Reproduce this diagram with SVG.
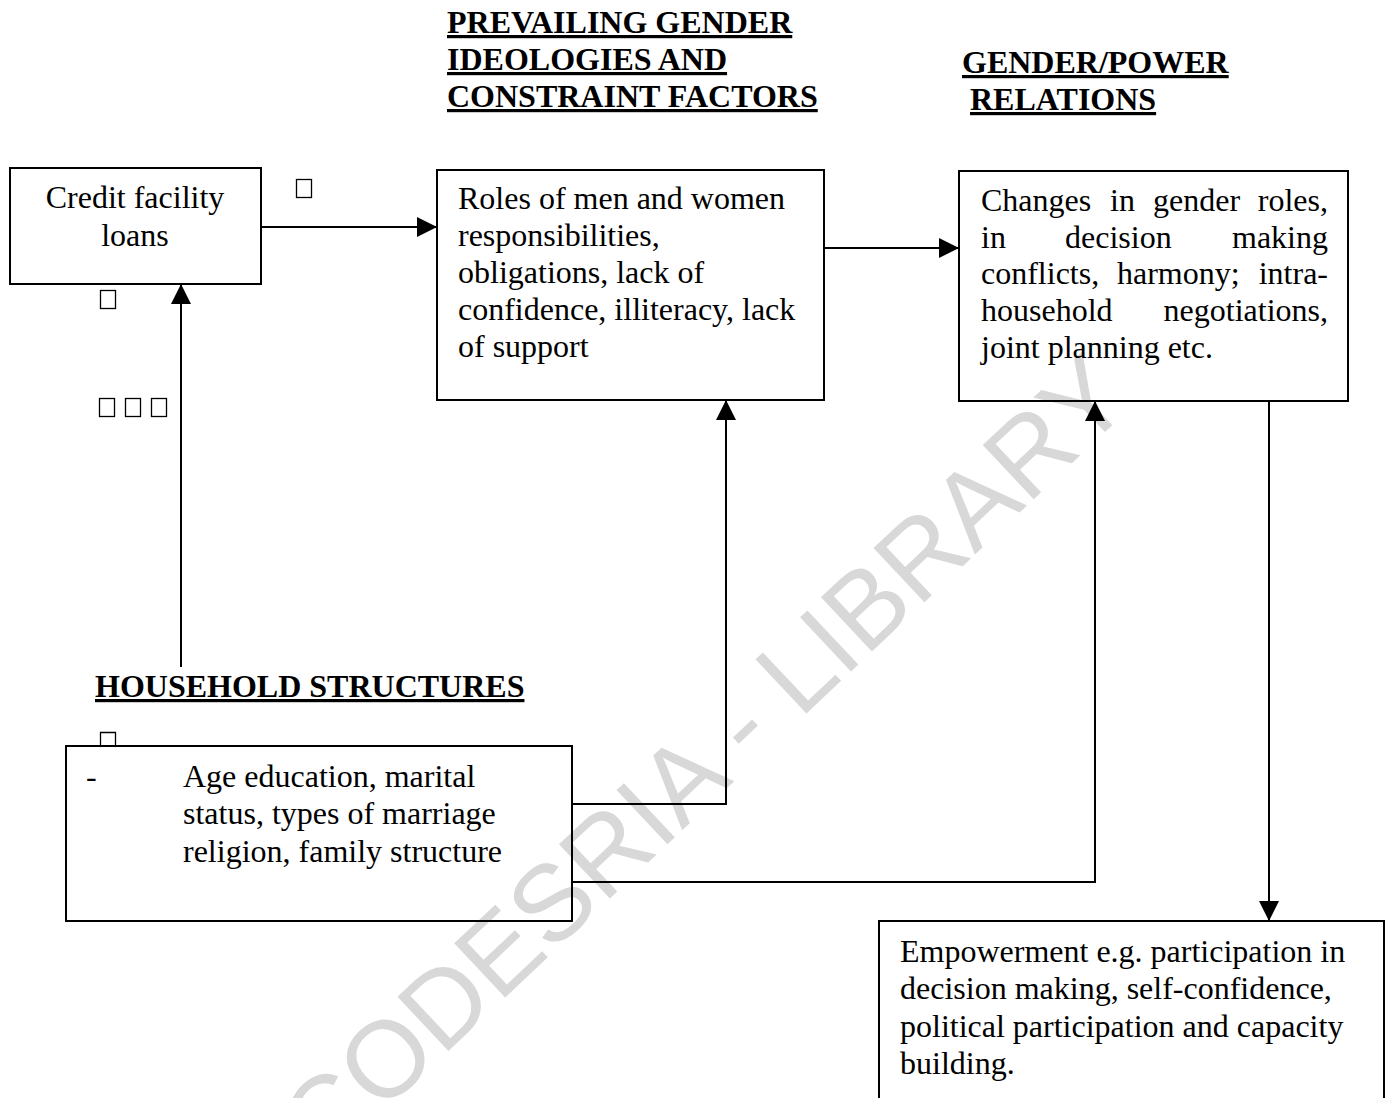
<svg xmlns="http://www.w3.org/2000/svg" width="1395" height="1098" viewBox="0 0 1395 1098">
<style>
.box{fill:none;stroke:#000;stroke-width:2}
.t{font-family:"Liberation Serif","Times New Roman",serif;font-size:32px;fill:#000}
.h{font-family:"Liberation Serif","Times New Roman",serif;font-size:32px;font-weight:bold;fill:#000;text-decoration:underline}
.c{fill:none;stroke:#000;stroke-width:2}
.tofu{fill:none;stroke:#000;stroke-width:1.3}
.wm{font-family:"Liberation Sans",Arial,sans-serif;font-size:108px;fill:#d8d8d8}
</style>
<defs>
<marker id="ah" markerUnits="userSpaceOnUse" markerWidth="20" markerHeight="20" refX="20" refY="10" orient="auto">
<path d="M0,0 L20,10 L0,20 z" fill="#000"/>
</marker>
</defs>
<rect width="1395" height="1098" fill="#fff"/>
<text class="wm" x="324" y="1168" transform="rotate(-43.3 324 1168)">CODESRIA - LIBRARY</text>

<g id="headings">
<text class="h" x="447" y="33">PREVAILING GENDER</text>
<text class="h" x="447" y="70">IDEOLOGIES AND</text>
<text class="h" x="447" y="107">CONSTRAINT FACTORS</text>
<text class="h" x="962" y="73">GENDER/POWER</text>
<text class="h" x="970" y="110">RELATIONS</text>
<text class="h" x="95" y="697">HOUSEHOLD STRUCTURES</text>
</g>

<g id="marks">
<rect class="tofu" x="296.5" y="179.5" width="15" height="18"/>
<rect class="tofu" x="100.5" y="290.5" width="15" height="18"/>
<rect class="tofu" x="99.5" y="398.5" width="15" height="18"/>
<rect class="tofu" x="125.5" y="398.5" width="15" height="18"/>
<rect class="tofu" x="151.5" y="398.5" width="15" height="18"/>
<path class="tofu" d="M100.5,746 V732.5 H115.5 V746"/>
</g>

<g id="connectors">
<path class="c" d="M262,227 H437" marker-end="url(#ah)"/>
<path class="c" d="M824,248 H959" marker-end="url(#ah)"/>
<path class="c" d="M181,667 V284" marker-end="url(#ah)"/>
<path class="c" d="M572,804 H726 V400" marker-end="url(#ah)"/>
<path class="c" d="M572,882 H1095 V401" marker-end="url(#ah)"/>
<path class="c" d="M1269,401 V921" marker-end="url(#ah)"/>
</g>

<g id="credit">
<rect class="box" x="10" y="168" width="251" height="116"/>
<text class="t" x="135" y="208" text-anchor="middle">Credit facility</text>
<text class="t" x="135" y="246" text-anchor="middle">loans</text>
</g>

<g id="ideologies">
<rect class="box" x="437" y="170" width="387" height="230"/>
<text class="t" x="458" y="209">Roles of men and women</text>
<text class="t" x="458" y="246">responsibilities,</text>
<text class="t" x="458" y="283">obligations, lack of</text>
<text class="t" x="458" y="320">confidence, illiteracy, lack</text>
<text class="t" x="458" y="357">of support</text>
</g>

<g id="relations">
<rect class="box" x="959" y="171" width="389" height="230"/>
<text class="t" x="981" y="211">Changes</text>
<text class="t" x="1110" y="211">in</text>
<text class="t" x="1153" y="211">gender</text>
<text class="t" x="1328" y="211" text-anchor="end">roles,</text>
<text class="t" x="981" y="248">in</text>
<text class="t" x="1065" y="248">decision</text>
<text class="t" x="1328" y="248" text-anchor="end">making</text>
<text class="t" x="981" y="284">conflicts,</text>
<text class="t" x="1117" y="284">harmony;</text>
<text class="t" x="1328" y="284" text-anchor="end">intra-</text>
<text class="t" x="981" y="321">household</text>
<text class="t" x="1328" y="321" text-anchor="end">negotiations,</text>
<text class="t" x="981" y="358">joint planning etc.</text>
</g>

<g id="household">
<rect class="box" x="66" y="746" width="506" height="175"/>
<text class="t" x="86" y="787">-</text>
<text class="t" x="183" y="787">Age education, marital</text>
<text class="t" x="183" y="824">status, types of marriage</text>
<text class="t" x="183" y="862">religion, family structure</text>
</g>

<g id="empowerment">
<rect class="box" x="879" y="921" width="505" height="200"/>
<text class="t" x="900" y="962">Empowerment e.g. participation in</text>
<text class="t" x="900" y="999">decision making, self-confidence,</text>
<text class="t" x="900" y="1037">political participation and capacity</text>
<text class="t" x="900" y="1074">building.</text>
</g>
</svg>
